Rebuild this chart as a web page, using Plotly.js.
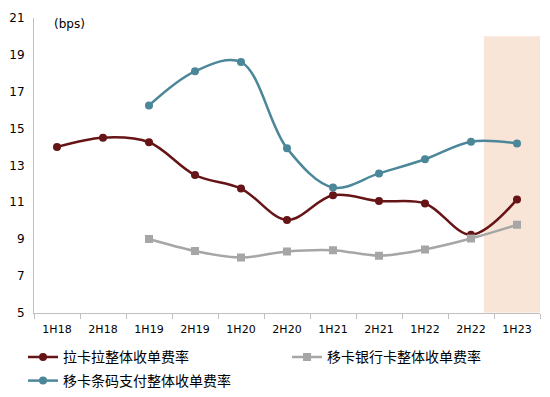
<!DOCTYPE html>
<html>
<head>
<meta charset="utf-8">
<script src="https://cdn.plot.ly/plotly-3.0.1.min.js"></script>
<style>html,body{margin:0;padding:0;background:#fff;}#chart{width:550px;height:397px;}</style>
</head>
<body>
<div id="chart"></div>
<script>
var categories = ["1H18","2H18","1H19","2H19","1H20","2H20","1H21","2H21","1H22","2H22","1H23"];
var lakala = [14.0, 14.5, 14.25, 12.47, 11.74, 10.04, 11.38, 11.06, 10.93, 9.23, 11.15];
var yikaBank = [null, null, 9.0, 8.35, 8.0, 8.33, 8.4, 8.1, 8.44, 9.03, 9.77];
var yikaBarcode = [null, null, 16.25, 18.1, 18.6, 13.92, 11.8, 12.56, 13.33, 14.28, 14.19];
var seriesNames = ["拉卡拉整体收单费率", "移卡银行卡整体收单费率", "移卡条码支付整体收单费率"];
var yTicks = [5, 7, 9, 11, 13, 15, 17, 19, 21];

var cjk = '"Noto Sans CJK SC", "DejaVu Sans", sans-serif';
var traces = [
  {x: categories, y: lakala, name: seriesNames[0], type: 'scatter', mode: 'lines+markers', legend: 'legend',
   line: {color: '#661416', width: 2.5, shape: 'spline', smoothing: 1}, marker: {color: '#661416', size: 8, symbol: 'circle'}},
  {x: categories, y: yikaBank, name: seriesNames[1], type: 'scatter', mode: 'lines+markers', legend: 'legend2',
   line: {color: '#A6A6A6', width: 2.5, shape: 'spline', smoothing: 1}, marker: {color: '#A6A6A6', size: 8, symbol: 'square'}},
  {x: categories, y: yikaBarcode, name: seriesNames[2], type: 'scatter', mode: 'lines+markers', legend: 'legend3',
   line: {color: '#4B8799', width: 2.5, shape: 'spline', smoothing: 1}, marker: {color: '#4B8799', size: 8, symbol: 'circle'}}
];

var legendBase = {orientation: 'v', xanchor: 'left', yanchor: 'middle', font: {family: cjk, size: 14, color: '#000'},
                  bgcolor: 'rgba(0,0,0,0)', itemwidth: 30};
var layout = {
  width: 550, height: 397,
  margin: {l: 0, r: 0, t: 0, b: 0, pad: 0},
  paper_bgcolor: '#fff', plot_bgcolor: '#fff',
  showlegend: true,
  font: {family: '"DejaVu Sans", sans-serif', size: 11, color: '#000'},
  xaxis: {type: 'category', range: [-0.5, 10.5], domain: [34/550, 540/550], tickson: 'boundaries', ticks: 'outside', ticklen: 5,
          tickcolor: '#BFBFBF', showline: true, linecolor: '#BFBFBF', linewidth: 1, showgrid: false, zeroline: false,
          tickfont: {family: '"DejaVu Sans", sans-serif', size: 11}, ticklabelstandoff: 6, automargin: false},
  yaxis: {range: [5, 21], domain: [81/397, 379/397], tickvals: yTicks, ticktext: yTicks.map(String), showline: true,
          linecolor: '#BFBFBF', linewidth: 1, showgrid: false, zeroline: false, ticks: '',
          tickfont: {family: '"DejaVu Sans", sans-serif', size: 12}, ticklabelstandoff: 6, automargin: false},
  legend: Object.assign({}, legendBase, {x: 23/550, y: 1 - 361/397}),
  legend2: Object.assign({}, legendBase, {x: 287/550, y: 1 - 361/397}),
  legend3: Object.assign({}, legendBase, {x: 23/550, y: 1 - 385/397}),
  shapes: [{type: 'rect', xref: 'x', yref: 'y', x0: 9.28, x1: 10.5, y0: 5, y1: 20, fillcolor: '#F8E5D8', line: {width: 0}, layer: 'below'}],
  annotations: [{text: '(bps)', xref: 'paper', yref: 'paper', x: 52/550, y: 1 - 24/397, xanchor: 'left', yanchor: 'middle', showarrow: false,
                 font: {family: '"DejaVu Sans", sans-serif', size: 12}}]
};
Plotly.newPlot('chart', traces, layout, {displayModeBar: false, staticPlot: true});
</script>
</body>
</html>
